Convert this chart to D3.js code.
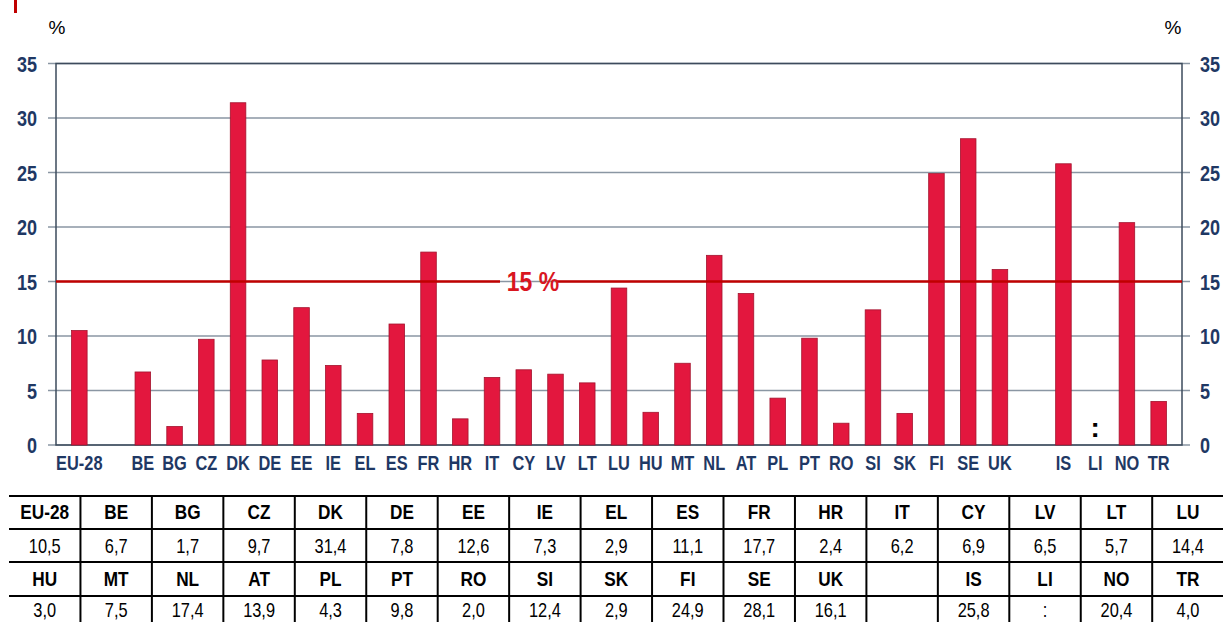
<!DOCTYPE html>
<html>
<head>
<meta charset="utf-8">
<script src="https://cdn.jsdelivr.net/npm/d3@7"></script>
<style>
  body { margin: 0; background: #fff; }
  svg text { font-family: "Liberation Sans Narrow", "Arial Narrow", "Liberation Sans", Arial, sans-serif; }
</style>
</head>
<body>
<svg id="chart" width="1223" height="622"></svg>
<script>
// categories as they appear on the x axis ("" = empty slot)
const countries = ["EU-28", "", "BE", "BG", "CZ", "DK", "DE", "EE", "IE", "EL", "ES", "FR", "HR", "IT",
  "CY", "LV", "LT", "LU", "HU", "MT", "NL", "AT", "PL", "PT", "RO", "SI", "SK", "FI", "SE", "UK",
  "", "IS", "LI", "NO", "TR"];
// values in %, null = not available (":")
const values = [10.5, null, 6.7, 1.7, 9.7, 31.4, 7.8, 12.6, 7.3, 2.9, 11.1, 17.7, 2.4, 6.2,
  6.9, 6.5, 5.7, 14.4, 3.0, 7.5, 17.4, 13.9, 4.3, 9.8, 2.0, 12.4, 2.9, 24.9, 28.1, 16.1,
  null, 25.8, null, 20.4, 4.0];
const yTicks = [0, 5, 10, 15, 20, 25, 30, 35];
const target = 15;

// table rows (codes); values looked up from the arrays above
const tableRow1 = ["EU-28", "BE", "BG", "CZ", "DK", "DE", "EE", "IE", "EL", "ES", "FR", "HR", "IT", "CY", "LV", "LT", "LU"];
const tableRow2 = ["HU", "MT", "NL", "AT", "PL", "PT", "RO", "SI", "SK", "FI", "SE", "UK", "", "IS", "LI", "NO", "TR"];

const navy = "#1f3864";
const squeeze = 0.82; // no narrow font installed, so squeeze text horizontally
const svg = d3.select("#chart");

let plot = { left: 56, right: 1182, top: 63.5, bottom: 445 };

// place a narrow-looking text at x,y
function narrowText(g, x, y, str) {
  return g.append("text")
    .attr("transform", "translate(" + x + "," + y + ") scale(" + squeeze + ",1)")
    .text(str);
}

// scales
let xScale = d3.scaleBand()
  .domain(d3.range(countries.length))
  .range([plot.left, plot.right])
  .paddingInner(0.51)
  .paddingOuter(0.49);

let yScale = d3.scaleLinear()
  .domain([0, 35])
  .range([plot.bottom, plot.top]);

// grid lines + small tick stubs outside plot
svg.append("g").selectAll("line").data(yTicks).enter()
  .append("line")
  .attr("x1", plot.left - 8).attr("x2", plot.right + 8)
  .attr("y1", d => yScale(d)).attr("y2", d => yScale(d))
  .attr("stroke", "#8a96a3").attr("stroke-width", 1.5);

// plot frame
svg.append("rect")
  .attr("x", plot.left).attr("y", plot.top)
  .attr("width", plot.right - plot.left).attr("height", plot.bottom - plot.top)
  .attr("fill", "none").attr("stroke", "#3d4b5c").attr("stroke-width", 1.5);

// left and right axes (labels only)
let leftAxis = svg.append("g")
  .attr("transform", "translate(" + (plot.left - 19) + ",0)")
  .call(d3.axisLeft(yScale).tickValues(yTicks).tickSize(0).tickPadding(0));
let rightAxis = svg.append("g")
  .attr("transform", "translate(" + (plot.right + 18) + ",0)")
  .call(d3.axisRight(yScale).tickValues(yTicks).tickSize(0).tickPadding(0));
[leftAxis, rightAxis].forEach(function (ax) {
  ax.select(".domain").remove();
  ax.selectAll("text")
    .attr("x", 0)
    .attr("transform", "scale(" + squeeze + ",1)")
    .style("font-size", "22px").style("font-weight", "bold")
    .style("font-family", "Liberation Sans, Arial, sans-serif")
    .attr("fill", navy).attr("dy", "0.36em");
});

// % units
svg.append("text").attr("x", 57).attr("y", 34).attr("text-anchor", "middle")
  .style("font-size", "19px").text("%");
svg.append("text").attr("x", 1173).attr("y", 34).attr("text-anchor", "middle")
  .style("font-size", "19px").text("%");

// red mark at top left
svg.append("rect").attr("x", 14).attr("y", 0).attr("width", 3).attr("height", 13).attr("fill", "#c00000");

// bars
svg.append("g").selectAll("rect")
  .data(values.map((v, i) => ({ i: i, v: v })).filter(d => d.v !== null))
  .enter()
  .append("rect")
  .attr("x", d => xScale(d.i))
  .attr("y", d => yScale(d.v))
  .attr("width", xScale.bandwidth())
  .attr("height", d => yScale(0) - yScale(d.v))
  .attr("fill", "#e3173e")
  .attr("stroke", "#a3142e")
  .attr("stroke-width", 0.8);

// not available marker for LI
let liIndex = countries.indexOf("LI");
svg.append("text")
  .attr("x", xScale(liIndex) + xScale.bandwidth() / 2)
  .attr("y", 437)
  .attr("text-anchor", "middle")
  .style("font-size", "28px").style("font-weight", "bold")
  .text(":");

// 15% target line with a gap for its label
let lineY = yScale(target);
svg.append("line").attr("x1", plot.left).attr("x2", 500)
  .attr("y1", lineY).attr("y2", lineY).attr("stroke", "#c00000").attr("stroke-width", 2.5);
svg.append("line").attr("x1", 557).attr("x2", plot.right)
  .attr("y1", lineY).attr("y2", lineY).attr("stroke", "#c00000").attr("stroke-width", 2.5);
narrowText(svg, 533, lineY + 9, target + " %")
  .attr("text-anchor", "middle")
  .style("font-size", "28px").style("font-weight", "bold").attr("fill", "#d9161f");

// x axis labels
let xLabels = svg.append("g")
  .style("font-size", "20px").style("font-weight", "bold")
  .attr("fill", navy).attr("text-anchor", "middle");
countries.forEach(function (c, i) {
  if (c === "") return;
  narrowText(xLabels, xScale(i) + xScale.bandwidth() / 2, 470, c);
});

// data table
function fmt(code) {
  if (code === "") return "";
  let v = values[countries.indexOf(code)];
  return v === null ? ":" : v.toFixed(1).replace(".", ",");
}
let tbl = { left: 9, colW: 71.45, rowTops: [496, 529, 562, 596], baselines: [519, 553, 586, 617] };
let tableRows = [
  { cells: tableRow1, bold: true },
  { cells: tableRow1.map(fmt), bold: false },
  { cells: tableRow2, bold: true },
  { cells: tableRow2.map(fmt), bold: false }
];
let table = svg.append("g");
tbl.rowTops.forEach(function (y) {
  table.append("line").attr("x1", tbl.left).attr("x2", 1223)
    .attr("y1", y).attr("y2", y).attr("stroke", "#000").attr("stroke-width", 2);
});
d3.range(1, 17).forEach(function (k) {
  let x = tbl.left + k * tbl.colW;
  table.append("line").attr("x1", x).attr("x2", x)
    .attr("y1", tbl.rowTops[0]).attr("y2", 622).attr("stroke", "#000").attr("stroke-width", 2);
});
tableRows.forEach(function (row, r) {
  let g = table.append("g")
    .attr("text-anchor", "middle")
    .style("font-size", row.bold ? "21px" : "20px")
    .style("font-weight", row.bold ? "bold" : "normal");
  row.cells.forEach(function (d, i) {
    narrowText(g, tbl.left + (i + 0.5) * tbl.colW, tbl.baselines[r], d);
  });
});
</script>
</body>
</html>
